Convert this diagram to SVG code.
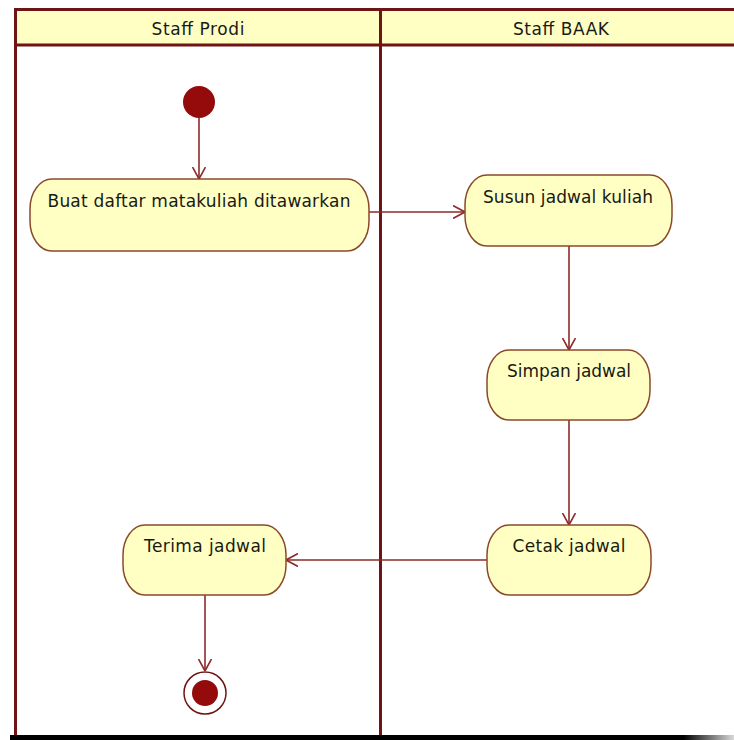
<svg xmlns="http://www.w3.org/2000/svg" width="734" height="740" viewBox="0 0 734 740">
  <style>
    .lane-line { stroke: #6e1414; stroke-width: 3; fill: none; }
    .header { fill: #ffffc4; }
    .lane-title { font-family: "DejaVu Sans", "Liberation Sans", sans-serif; font-size: 17px; fill: #1a1a1a; text-anchor: middle; }
    .action { fill: #ffffc4; stroke: #8a4a2a; stroke-width: 1.5; }
    .label { font-family: "DejaVu Sans", "Liberation Sans", sans-serif; font-size: 17px; fill: #1a1a10; text-anchor: middle; }
    .flow { stroke: #8e2a2a; stroke-width: 1.6; fill: none; marker-end: url(#open-arrow); }
    .solid { fill: #950a0a; }
  </style>
  <defs>
    <marker id="open-arrow" markerUnits="userSpaceOnUse" viewBox="0 0 12 14" refX="12" refY="7" markerWidth="12" markerHeight="14" orient="auto">
      <path d="M0,0.5 L12,7 L0,13.5" fill="none" stroke="#8e2a2a" stroke-width="1.6"/>
    </marker>
    <linearGradient id="base-fade" x1="0" y1="0" x2="1" y2="0">
      <stop offset="0" stop-color="#000"/>
      <stop offset="0.93" stop-color="#000"/>
      <stop offset="1" stop-color="#000" stop-opacity="0.15"/>
    </linearGradient>
  </defs>

  <rect width="734" height="740" fill="#ffffff"/>

  <!-- swimlane frame -->
  <g id="swimlanes">
    <rect class="header" x="15" y="9" width="719" height="36"/>
    <line class="lane-line" x1="14" y1="9.5" x2="734" y2="9.5"/>
    <line class="lane-line" x1="14" y1="45" x2="734" y2="45"/>
    <line class="lane-line" x1="15.5" y1="8" x2="15.5" y2="736"/>
    <line class="lane-line" x1="380.5" y1="8" x2="380.5" y2="736" stroke="#4e0c0c"/>
    <text class="lane-title" x="198" y="35" textLength="93">Staff Prodi</text>
    <text class="lane-title" x="561" y="35" textLength="96">Staff BAAK</text>
  </g>
  <rect x="10" y="735" width="724" height="5" fill="url(#base-fade)"/>

  <!-- connectors -->
  <g id="connectors">
    <line class="flow" x1="199" y1="118" x2="199" y2="179"/>
    <line class="flow" x1="369" y1="212" x2="465" y2="212"/>
    <line class="flow" x1="569" y1="246" x2="569" y2="350"/>
    <line class="flow" x1="569" y1="420" x2="569" y2="525"/>
    <line class="flow" x1="487" y1="560" x2="286" y2="560"/>
    <line class="flow" x1="205" y1="595" x2="205" y2="671"/>
  </g>

  <!-- nodes -->
  <g id="initial">
    <circle class="solid" cx="199" cy="102" r="16"/>
  </g>
  <g id="buat-daftar">
    <rect class="action" x="30" y="179" width="339" height="72" rx="22" ry="30"/>
    <text class="label" x="199" y="207" textLength="303">Buat daftar matakuliah ditawarkan</text>
  </g>
  <g id="susun-jadwal">
    <rect class="action" x="465" y="175" width="207" height="71" rx="22" ry="30"/>
    <text class="label" x="568" y="203" textLength="170">Susun jadwal kuliah</text>
  </g>
  <g id="simpan-jadwal">
    <rect class="action" x="487" y="350" width="163" height="70" rx="22" ry="30"/>
    <text class="label" x="569" y="377" textLength="124">Simpan jadwal</text>
  </g>
  <g id="cetak-jadwal">
    <rect class="action" x="487" y="525" width="164" height="70" rx="22" ry="30"/>
    <text class="label" x="569" y="552" textLength="113">Cetak jadwal</text>
  </g>
  <g id="terima-jadwal">
    <rect class="action" x="123" y="525" width="163" height="70" rx="22" ry="30"/>
    <text class="label" x="205" y="552" textLength="122">Terima jadwal</text>
  </g>
  <g id="final">
    <circle cx="205" cy="693" r="21" fill="#ffffff" stroke="#6e1414" stroke-width="1.5"/>
    <circle class="solid" cx="205" cy="693" r="13"/>
  </g>
</svg>
